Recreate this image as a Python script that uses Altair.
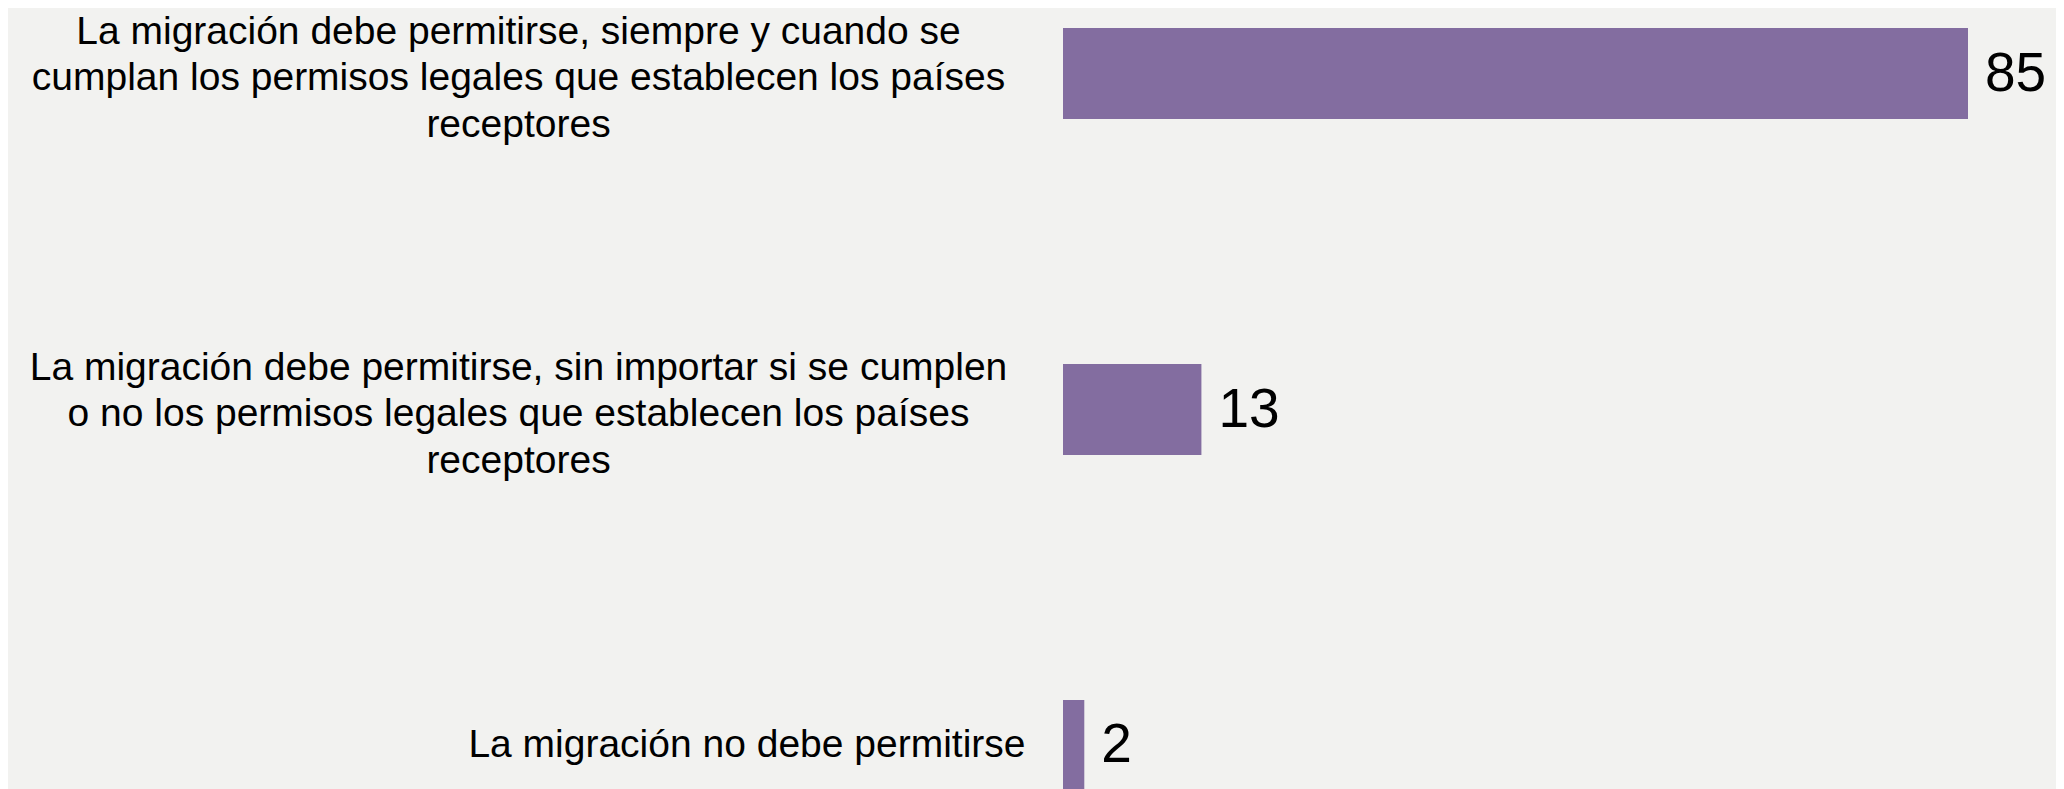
import altair as alt
import pandas as pd

# Answer categories ("|" marks a line break in the axis label)
categories = [
    "La migración debe permitirse, siempre y cuando se|cumplan los permisos legales que establecen los países|receptores",
    "La migración debe permitirse, sin importar si se cumplen|o no los permisos legales que establecen los países|receptores",
    "La migración no debe permitirse",
]
values = [85, 13, 2]

df = pd.DataFrame({"respuesta": categories, "valor": values})

BAR = "#836da0"
BG = "#f2f2f0"
FONT = "Liberation Sans"

single_line = "indexof(datum.value, '|') < 0"
multi_line = "indexof(datum.value, '|') >= 0"

y_enc = alt.Y(
    "respuesta:N",
    sort=categories,
    title=None,
    scale=alt.Scale(paddingInner=0.729, paddingOuter=0),
    axis=alt.Axis(
        domain=False,
        ticks=False,
        grid=False,
        labelLimit=0,
        labelFont=FONT,
        labelFontSize=39,
        labelColor="#000000",
        labelLineHeight=46.5,
        labelExpr="split(datum.label, '|')",
        labelAlign={"condition": {"test": single_line, "value": "right"}, "value": "center"},
        labelPadding={"condition": {"test": single_line, "value": 38}, "value": 545},
        labelOffset={"condition": {"test": multi_line, "value": -42}, "value": 0},
    ),
)

x_enc = alt.X("valor:Q", axis=None, scale=alt.Scale(domain=[0, 85], nice=False))

bars = alt.Chart(df).mark_bar(color=BAR).encode(y=y_enc, x=x_enc)

labels = alt.Chart(df).mark_text(
    align="left", baseline="middle", dx=17, fontSize=55, font=FONT, color="#000000"
).encode(y=alt.Y("respuesta:N", sort=categories), x="valor:Q", text="valor:Q")

chart = (
    alt.layer(bars, labels)
    .properties(
        width=905,
        height=763,
        padding={"left": 1055, "top": 20, "right": 88, "bottom": 0},
        autosize=alt.AutoSizeParams(type="none"),
        background=BG,
    )
    .configure_view(stroke=None)
)

chart.save("out.html", embed_options={"renderer": "svg", "actions": False})
